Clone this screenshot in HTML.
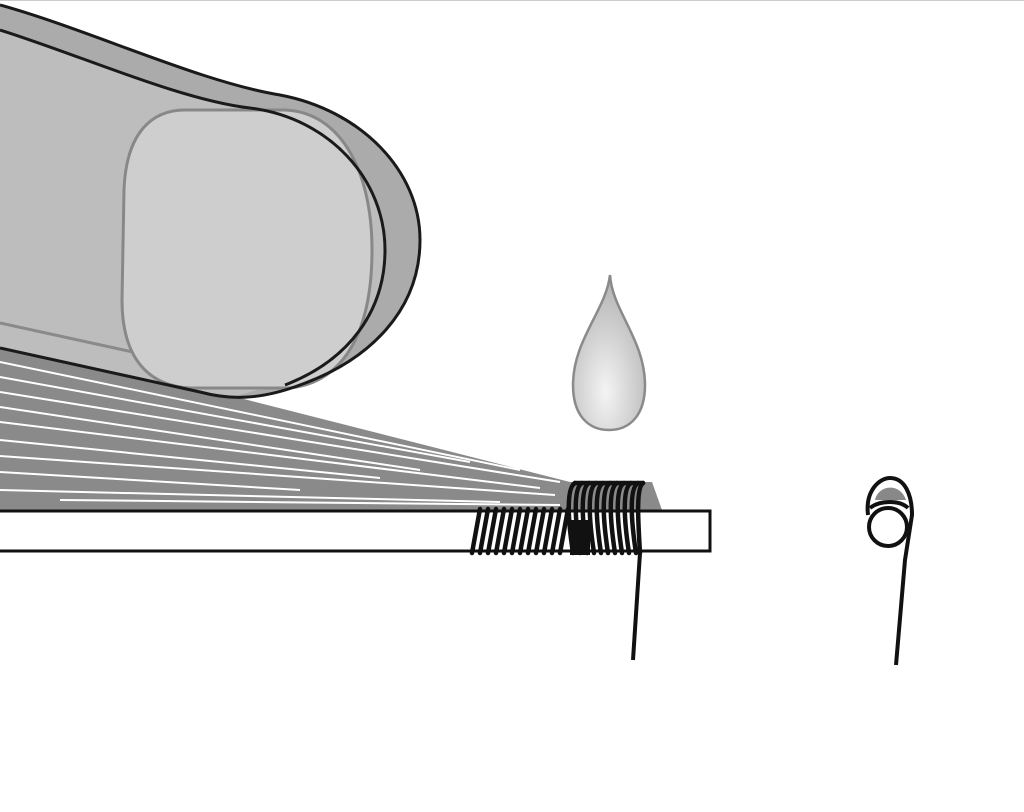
<!DOCTYPE html>
<html><head><style>html,body{margin:0;padding:0;background:#fff;}svg{display:block}</style></head>
<body>
<svg width="1024" height="812" viewBox="0 0 1024 812" xmlns="http://www.w3.org/2000/svg">
<defs>
<radialGradient id="dg" cx="0.45" cy="0.75" r="0.7">
<stop offset="0" stop-color="#f4f4f4"/><stop offset="1" stop-color="#b5b5b5"/></radialGradient>
</defs>
<line x1="0" y1="0.5" x2="1024" y2="0.5" stroke="#ccc"/>
<!-- fibers fan -->
<polygon points="0,345 240,398 570,482 652,482 662,510 0,510" fill="#8a8a8a"/>
<g stroke="#fff" stroke-width="2" fill="none">
<line x1="0" y1="362" x2="520" y2="470"/>
<line x1="0" y1="377" x2="470" y2="462"/>
<line x1="0" y1="392" x2="560" y2="482"/>
<line x1="0" y1="407" x2="420" y2="470"/>
<line x1="0" y1="422" x2="540" y2="488"/>
<line x1="0" y1="440" x2="380" y2="478"/>
<line x1="0" y1="456" x2="555" y2="495"/>
<line x1="0" y1="472" x2="300" y2="490"/>
<line x1="0" y1="490" x2="500" y2="502"/>
<line x1="60" y1="500" x2="560" y2="505"/>
<line x1="280" y1="402" x2="560" y2="478"/>
</g>
<!-- finger outer fill -->
<path d="M0,5 C90,30 200,82 280,95 C360,110 420,170 420,240 C420,310 370,360 300,385 C260,400 230,400 200,392 L0,348 Z" fill="#ababab"/>
<!-- inner body -->
<path d="M0,30 C80,55 180,100 250,108 C330,118 385,180 385,250 C385,310 350,360 290,380 L230,398 L0,348 Z" fill="#bdbdbd"/>
<path d="M0,323 L270,382" stroke="#8a8a8a" stroke-width="3" fill="none"/>
<!-- nail -->
<path d="M185,110 L285,110 C340,112 372,170 372,250 C372,330 345,382 290,388 L190,388 C150,386 122,360 122,300 L124,190 C126,135 150,110 185,110 Z" fill="#cecece" stroke="#888" stroke-width="3"/>
<!-- outlines -->
<path d="M0,5 C90,30 200,82 280,95 C360,110 420,170 420,240 C420,310 370,360 300,385 C260,400 230,400 200,392 L0,348" fill="none" stroke="#1a1a1a" stroke-width="3"/>
<path d="M0,30 C80,55 180,100 250,108 C330,118 385,180 385,250 C385,310 350,360 285,385" fill="none" stroke="#1a1a1a" stroke-width="3"/>
<!-- drop -->
<path d="M610,275 C612,310 645,340 645,385 C645,415 630,430 609,430 C588,430 573,415 573,385 C573,340 606,310 610,275 Z" fill="url(#dg)" stroke="#8a8a8a" stroke-width="2.5"/>
<!-- rod -->
<rect x="-5" y="511" width="715" height="40" fill="#fff" stroke="#111" stroke-width="3"/>
<!-- left coil -->
<g stroke="#111" stroke-width="4.5" fill="none" stroke-linecap="round">
<line x1="480" y1="509" x2="472" y2="553"/><line x1="488" y1="509" x2="480" y2="553"/>
<line x1="496" y1="509" x2="488" y2="553"/><line x1="504" y1="509" x2="496" y2="553"/>
<line x1="512" y1="509" x2="504" y2="553"/><line x1="520" y1="509" x2="512" y2="553"/>
<line x1="528" y1="509" x2="520" y2="553"/><line x1="536" y1="509" x2="528" y2="553"/>
<line x1="544" y1="509" x2="536" y2="553"/><line x1="552" y1="509" x2="544" y2="553"/>
<line x1="560" y1="509" x2="552" y2="553"/><line x1="568" y1="509" x2="560" y2="553"/>
</g>
<!-- right coil -->
<g stroke="#111" stroke-width="4.5" fill="none" stroke-linecap="round">
<path d="M573,553 C568,520 566,488 575,483"/><path d="M580,553 C575,520 573,488 582,483"/>
<path d="M587,553 C582,520 580,488 589,483"/><path d="M594,553 C589,520 587,488 596,483"/>
<path d="M601,553 C596,520 594,488 603,483"/><path d="M608,553 C603,520 601,488 610,483"/>
<path d="M615,553 C610,520 608,488 617,483"/><path d="M622,553 C617,520 615,488 624,483"/>
<path d="M629,553 C624,520 622,488 631,483"/><path d="M636,553 C631,520 629,488 638,483"/>
<path d="M640,553 C638,520 636,488 643,483"/>
<line x1="575" y1="483" x2="643" y2="483"/>
</g>
<rect x="570" y="520" width="20" height="35" fill="#111"/>
<line x1="640" y1="553" x2="633" y2="660" stroke="#111" stroke-width="4"/>
<!-- side view -->
<path d="M868,515 C865,490 880,478 890,478 C905,478 912,495 912,515 L905,560 L896,665" fill="none" stroke="#111" stroke-width="4"/>
<path d="M875,500 C878,485 900,482 906,500 Z" fill="#888"/>
<path d="M870,508 C880,500 900,500 908,508" fill="none" stroke="#111" stroke-width="4"/>
<circle cx="888" cy="527" r="19" fill="#fff" stroke="#111" stroke-width="4"/>
</svg>
</body></html>
